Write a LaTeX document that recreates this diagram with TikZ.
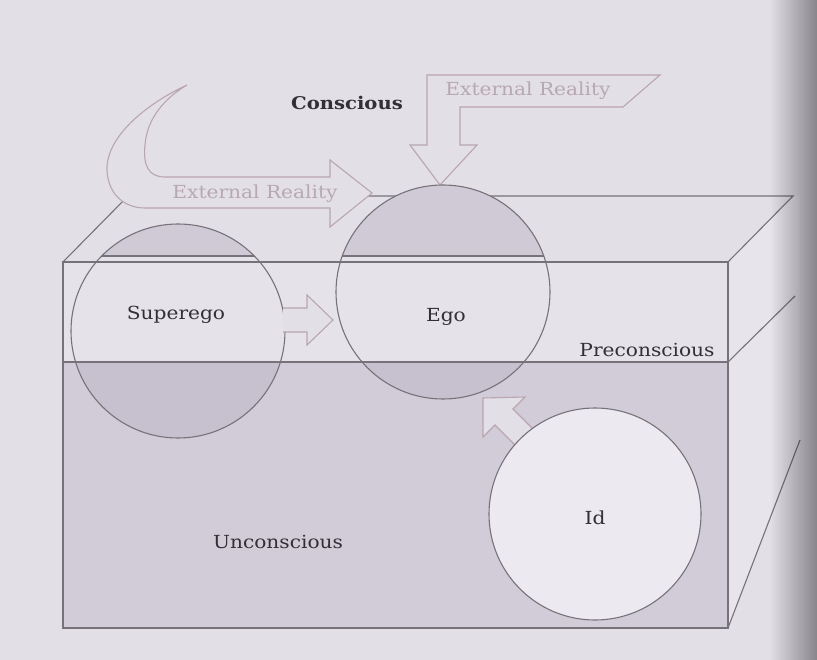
\documentclass[tikz,border=0pt]{standalone}
\usepackage{fontspec}
\setmainfont{DejaVu Serif}[FakeStretch=1.12]
\usetikzlibrary{fadings}
\tikzfading[name=gutter, left color=transparent!100, right color=transparent!0]
\begin{document}
\begin{tikzpicture}[x=1pt,y=-1pt]
\definecolor{bg}{RGB}{226,223,231}
\definecolor{band}{RGB}{229,226,234}
\definecolor{side}{RGB}{231,228,235}
\definecolor{unc}{RGB}{210,204,217}
\definecolor{capc}{RGB}{207,202,214}
\definecolor{lowc}{RGB}{198,192,207}
\definecolor{edge}{RGB}{118,114,122}
\definecolor{arr}{RGB}{186,166,174}
\definecolor{arrtxt}{RGB}{184,168,177}
\definecolor{txt}{RGB}{50,47,54}
\definecolor{idc}{RGB}{236,233,240}
\tikzset{
  edgeline/.style={draw=edge, line width=1.1pt},
  blockarrow/.style={draw=arr, line width=1.1pt, fill=bg, line join=miter},
  lbl/.style={text=txt, font=\fontsize{18}{20}\selectfont, inner sep=0pt},
  arrlbl/.style={text=arrtxt, font=\fontsize{18}{20}\selectfont, inner sep=0pt},
}
\fill[bg] (0,0) rectangle (817,660);
\useasboundingbox (0,0) rectangle (817,660);

% box faces
\fill[bg] (63,262) -- (128,196) -- (793,196) -- (728,262) -- cycle;
\fill[side] (728,262) -- (793,196) -- (800,196) -- (800,440) -- (728,628) -- cycle;
\fill[band] (63,262) rectangle (728,362);
\fill[unc] (63,362) rectangle (728,628);

% back edges
\draw[edgeline] (63,262) -- (128,196) -- (793,196) -- (728,262);
\draw[edgeline] (728,362) -- (795,296);
\draw[edgeline] (728,628) -- (800,440);

% left curved arrow "External Reality"
\path[blockarrow] (187,85) .. controls (150,102) and (106,135) .. (107,170)
  .. controls (108,195) and (125,208) .. (145,208) -- (330,208) -- (330,227)
  -- (372,193) -- (330,160) -- (330,177) -- (165,177)
  .. controls (148,177) and (143,165) .. (145,145)
  .. controls (147,118) and (165,98) .. cycle;
\node[arrlbl] (er1) at (255,194) {External Reality};

% top bent arrow "External Reality"
\path[blockarrow] (427,75) -- (660,75) -- (623,107) -- (460,107) -- (460,145)
  -- (477,145) -- (440,185) -- (410,145) -- (427,145) -- cycle;
\node[arrlbl] (er2) at (528,91) {External Reality};

% Superego circle
\begin{scope}
  \clip (178,331) circle[radius=107];
  \fill[band] (178,331) circle[radius=107];
  \fill[capc] (0,0) rectangle (817,256);
  \fill[lowc] (0,362) rectangle (817,660);
  \draw[edgeline] (0,256) -- (817,256);
\end{scope}
\draw[edgeline] (178,331) circle[radius=107];

% Ego circle
\begin{scope}
  \clip (443,292) circle[radius=107];
  \fill[band] (443,292) circle[radius=107];
  \fill[capc] (0,0) rectangle (817,256);
  \fill[lowc] (0,362) rectangle (817,660);
  \draw[edgeline] (0,256) -- (817,256);
\end{scope}
\draw[edgeline] (443,292) circle[radius=107];

% front edges
\draw[edgeline] (63,262) -- (728,262);
\draw[edgeline] (63,362) -- (728,362);
\draw[edgeline] (63,262) rectangle (728,628);

% Superego -> Ego arrow
\fill[bg] (283,308) -- (307,308) -- (307,295) -- (333,320) -- (307,345) -- (307,332) -- (283,332) -- cycle;
\draw[draw=arr, line width=1.1pt, line join=miter] (283,308) -- (307,308) -- (307,295) -- (333,320) -- (307,345) -- (307,332) -- (283,332);

% Id -> Ego arrow
\fill[bg] (515,445) -- (495,425) -- (483,437) -- (483,398) -- (525,397) -- (513,409) -- (532,428) -- cycle;
\draw[draw=arr, line width=1.1pt, line join=miter] (515,445) -- (495,425) -- (483,437) -- (483,398) -- (525,397) -- (513,409) -- (532,428);

% Id circle
\draw[edgeline, fill=idc] (595,514) circle[radius=106];

% labels
\node[lbl, font=\fontsize{17.5}{20}\selectfont\bfseries] (con) at (347,103) {Conscious};
\node[lbl] (sup) at (176,315) {Superego};
\node[lbl] (ego) at (446,317) {Ego};
\node[lbl] (pre) at (647,350) {Preconscious};
\node[lbl] (unc) at (278,542) {Unconscious};
\node[lbl] (id) at (595,518) {Id};

% page gutter shading
\fill[black, opacity=0.4, path fading=gutter] (770,0) rectangle (817,660);
\end{tikzpicture}
\end{document}
